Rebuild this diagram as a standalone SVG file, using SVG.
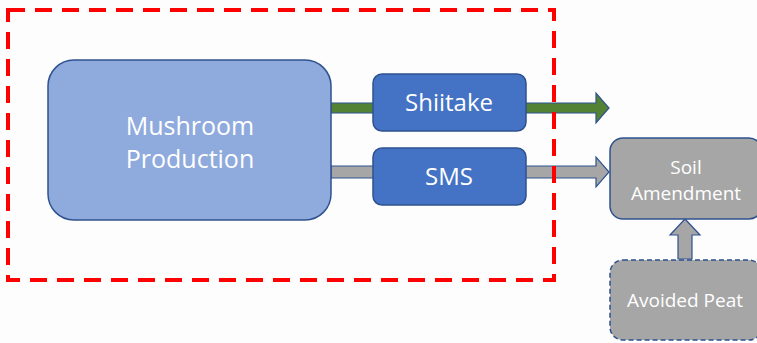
<svg xmlns="http://www.w3.org/2000/svg" width="757" height="343" viewBox="0 0 757 343">
<style>
.t{font-family:"Open Sans","Noto Sans","Liberation Sans",sans-serif;fill:#ffffff;text-anchor:middle}
.blue{fill:#4472c4;stroke:#2f528f;stroke-width:1.5}
.gray{fill:#a6a6a6;stroke:#2f528f;stroke-width:1.5}
</style>
<rect width="757" height="343" fill="#fdfdfd"/>
<g id="connectors">
<path d="M331,103 H596 V93 L609,108 L596,123 V113 H331 Z" fill="#548235" stroke="#2f528f" stroke-width="1.2"/>
<path d="M331,166 H596 V157 L609,172 L596,187 V178 H331 Z" fill="#a6a6a6" stroke="#2f528f" stroke-width="1.2"/>
<path d="M678,259 V235 H670 L685,219 L700,235 H692 V259 Z" fill="#a6a6a6" stroke="#2f528f" stroke-width="1.2"/>
</g>
<g id="boundary">
<rect x="8" y="10" width="546" height="270" fill="none" stroke="#ff0000" stroke-width="4" stroke-dasharray="17,10"/>
</g>
<g id="mushroom">
<rect x="48" y="60" width="283" height="160" rx="26" fill="#8faadc" stroke="#2f528f" stroke-width="1.5"/>
<text class="t" x="190" y="135" font-size="25">Mushroom</text>
<text class="t" x="190" y="168" font-size="25">Production</text>
</g>
<g id="shiitake">
<rect class="blue" x="373" y="74" width="153" height="57" rx="9"/>
<text class="t" x="449" y="111" font-size="24">Shiitake</text>
</g>
<g id="sms">
<rect class="blue" x="373" y="148" width="153" height="57" rx="9"/>
<text class="t" x="449" y="185" font-size="24">SMS</text>
</g>
<g id="soil">
<rect class="gray" x="610" y="138" width="152" height="81" rx="13"/>
<text class="t" x="686" y="174" font-size="19">Soil</text>
<text class="t" x="686" y="200" font-size="19">Amendment</text>
</g>
<g id="peat">
<rect class="gray" x="610" y="260" width="152" height="80" rx="13" stroke-dasharray="5,3"/>
<text class="t" x="685" y="307" font-size="19">Avoided Peat</text>
</g>
</svg>
